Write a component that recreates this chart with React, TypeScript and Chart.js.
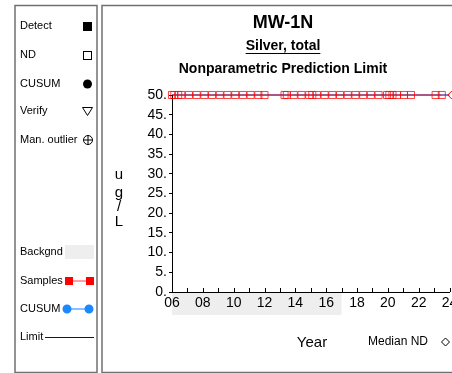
import React, { useEffect, useRef } from 'react';
import { Chart, registerables } from 'chart.js';

Chart.register(...registerables);

// ---- Data ----
const sampleYears = [
  2006.0, 2006.15, 2006.4, 2006.6, 2007.1, 2007.6, 2008.1, 2008.6, 2009.1, 2009.6,
  2010.1, 2010.6, 2011.1, 2011.6, 2012.0, 2013.3, 2013.45, 2013.9, 2014.4, 2014.9,
  2015.1, 2015.4, 2015.9, 2016.4, 2016.9, 2017.4, 2017.9, 2018.4, 2018.9, 2019.4,
  2019.95, 2020.1, 2020.3, 2020.6, 2021.05, 2021.5, 2023.1, 2023.5,
];
const sampleValues = [
  50, 50, 50, 50, 50, 50, 50, 50, 50, 50,
  50, 50, 50, 50, 50, 50, 50, 50, 50, 50,
  50, 50, 50, 50, 50, 50, 50, 50, 50, 50,
  50, 50, 50, 50, 50, 50, 50, 50,
];
const limitYears = [2006, 2024];
const limitValues = [50, 50];
const medianNdYears = [2024.15];
const medianNdValues = [50];
const backgroundPeriod = [2006, 2017];
const xRange = [2006, 2024];
const yRange = [0, 50];
const yTickStep = 5;

const titleText = 'MW-1N';
const subtitleText = 'Silver, total';
const methodText = 'Nonparametric Prediction Limit';
const xTitle = 'Year';
const yTitleChars = ['u', 'g', '/', 'L'];

const FONT = '"Liberation Sans", Arial, Helvetica, sans-serif';

function pts(xs: number[], ys: number[]) {
  return xs.map((x, i) => ({ x, y: ys[i] }));
}

const decorPlugin = {
  id: 'decor',
  beforeDraw(chart: any) {
    const ctx = chart.ctx as CanvasRenderingContext2D;
    const xs = chart.scales.x;
    const area = chart.chartArea;
    ctx.save();
    ctx.fillStyle = '#ffffff';
    ctx.fillRect(0, 0, chart.width, chart.height);

    // panel borders
    ctx.strokeStyle = '#707070';
    ctx.lineWidth = 1.5;
    ctx.strokeRect(15, 5.5, 82, 367);
    ctx.strokeRect(102, 5.5, 400, 367);

    // background band
    const bx0 = xs.getPixelForValue(backgroundPeriod[0]);
    const bx1 = xs.getPixelForValue(backgroundPeriod[1]);
    ctx.fillStyle = '#eeeeee';
    ctx.fillRect(bx0, area.bottom + 1, bx1 - bx0, 22);

    // titles
    ctx.fillStyle = '#000';
    ctx.textAlign = 'center';
    ctx.textBaseline = 'middle';
    const cx = 283;
    ctx.font = `bold 18px ${FONT}`;
    ctx.fillText(titleText, cx, 23);
    ctx.font = `bold 14px ${FONT}`;
    ctx.fillText(subtitleText, cx, 46);
    const w = ctx.measureText(subtitleText).width;
    ctx.strokeStyle = '#000';
    ctx.lineWidth = 1;
    ctx.beginPath();
    ctx.moveTo(cx - w / 2, 53.5);
    ctx.lineTo(cx + w / 2, 53.5);
    ctx.stroke();
    ctx.fillText(methodText, cx, 69);

    // y title
    ctx.font = `15px ${FONT}`;
    const yPos = [175, 193, 207, 222];
    yTitleChars.forEach((c, i) => ctx.fillText(c, 119, yPos[i]));

    // x title
    ctx.font = `15px ${FONT}`;
    ctx.fillText(xTitle, 312, 343);

    // Median ND
    ctx.font = `12px ${FONT}`;
    ctx.textAlign = 'left';
    ctx.fillText('Median ND', 368, 342);
    ctx.strokeStyle = '#000';
    ctx.lineWidth = 1;
    ctx.beginPath();
    ctx.moveTo(445.5, 338);
    ctx.lineTo(449.5, 342);
    ctx.lineTo(445.5, 346);
    ctx.lineTo(441.5, 342);
    ctx.closePath();
    ctx.stroke();

    // left legend
    ctx.font = `11px ${FONT}`;
    ctx.fillStyle = '#000';
    ctx.textAlign = 'left';
    const lx = 20;
    ctx.fillText('Detect', lx, 26);
    ctx.fillRect(83, 22, 9, 9);
    ctx.fillText('ND', lx, 55);
    ctx.strokeRect(83.5, 51.5, 8, 8);
    ctx.fillText('CUSUM', lx, 84);
    ctx.beginPath();
    ctx.arc(87.5, 84, 4.5, 0, Math.PI * 2);
    ctx.fill();
    ctx.fillText('Verify', lx, 111);
    ctx.beginPath();
    ctx.moveTo(82.5, 107.5);
    ctx.lineTo(92.5, 107.5);
    ctx.lineTo(87.5, 115.5);
    ctx.closePath();
    ctx.stroke();
    ctx.fillText('Man. outlier', lx, 140);
    ctx.beginPath();
    ctx.arc(88, 140, 4.5, 0, Math.PI * 2);
    ctx.moveTo(83.5, 140);
    ctx.lineTo(92.5, 140);
    ctx.moveTo(88, 135.5);
    ctx.lineTo(88, 144.5);
    ctx.stroke();

    ctx.fillText('Backgnd', lx, 252);
    ctx.fillStyle = '#eeeeee';
    ctx.fillRect(65, 245, 29, 14);

    ctx.fillStyle = '#000';
    ctx.fillText('Samples', lx, 281);
    ctx.strokeStyle = '#ff8080';
    ctx.lineWidth = 1.5;
    ctx.beginPath();
    ctx.moveTo(69, 281);
    ctx.lineTo(90, 281);
    ctx.stroke();
    ctx.fillStyle = '#ff0000';
    ctx.fillRect(65, 277, 8, 8);
    ctx.fillRect(86, 277, 8, 8);

    ctx.fillStyle = '#000';
    ctx.fillText('CUSUM', lx, 309);
    ctx.strokeStyle = '#66aaff';
    ctx.beginPath();
    ctx.moveTo(67, 309);
    ctx.lineTo(89, 309);
    ctx.stroke();
    ctx.fillStyle = '#1a88ff';
    ctx.beginPath();
    ctx.arc(67, 309, 4.5, 0, Math.PI * 2);
    ctx.arc(89, 309, 4.5, 0, Math.PI * 2);
    ctx.fill();

    ctx.fillStyle = '#000';
    ctx.fillText('Limit', lx, 337);
    ctx.strokeStyle = '#0000cc';
    ctx.lineWidth = 1;
    ctx.beginPath();
    ctx.moveTo(45, 337.5);
    ctx.lineTo(94, 337.5);
    ctx.stroke();

    ctx.restore();
  },
  afterDraw(chart: any) {
    const ctx = chart.ctx as CanvasRenderingContext2D;
    const xs = chart.scales.x;
    const area = chart.chartArea;
    ctx.save();
    ctx.strokeStyle = '#000';
    ctx.lineWidth = 1;
    ctx.beginPath();
    for (let yr = xRange[0]; yr <= xRange[1]; yr++) {
      const px = Math.round(xs.getPixelForValue(yr)) + 0.5;
      ctx.moveTo(px, area.bottom);
      ctx.lineTo(px, area.bottom - 4);
    }
    ctx.stroke();
    ctx.restore();
  },
};

export default function App() {
  const ref = useRef<HTMLCanvasElement | null>(null);
  useEffect(() => {
    if (!ref.current) return;
    const chart = new Chart(ref.current, {
      type: 'line',
      data: {
        datasets: [
          {
            label: 'Median ND',
            data: pts(medianNdYears, medianNdValues),
            showLine: false,
            pointStyle: 'rectRot',
            pointRadius: 4,
            pointBorderColor: '#ff0000',
            pointBackgroundColor: 'rgba(0,0,0,0)',
            pointBorderWidth: 1,
            clip: false as any,
          },
          {
            label: 'Samples',
            data: pts(sampleYears, sampleValues),
            borderColor: 'rgba(255,0,0,0.6)',
            borderWidth: 1,
            pointStyle: 'rect',
            pointRadius: 5,
            pointBorderColor: 'rgba(255,0,0,0.75)',
            pointBackgroundColor: 'rgba(0,0,0,0)',
            pointBorderWidth: 1,
            clip: false as any,
          },
          {
            label: 'Limit',
            data: pts(limitYears, limitValues),
            borderColor: '#000080',
            borderWidth: 1,
            pointRadius: 0,
            clip: false as any,
          },
        ],
      },
      options: {
        animation: false,
        responsive: false,
        events: [],
        layout: { autoPadding: false, padding: { left: 132, top: 95, right: 2.5, bottom: 51 } },
        plugins: { legend: { display: false }, tooltip: { enabled: false }, title: { display: false } },
        scales: {
          x: {
            type: 'linear',
            min: xRange[0],
            max: xRange[1],
            border: { display: true, color: '#000', width: 1 },
            grid: { display: true, drawOnChartArea: false, drawTicks: false, color: '#000' },
            ticks: {
              stepSize: 1,
              autoSkip: false,
              maxRotation: 0,
              padding: 3,
              color: '#000',
              font: { family: FONT, size: 14 },
              callback: (v: any) => (Number(v) % 2 === 0 ? String(Number(v) % 100).padStart(2, '0') : ''),
            },
            afterFit: (s: any) => {
              s.height = 30;
              s.paddingLeft = 0;
              s.paddingRight = 0;
            },
          },
          y: {
            type: 'linear',
            min: yRange[0],
            max: yRange[1],
            border: { display: true, color: '#000', width: 1 },
            grid: { display: true, drawOnChartArea: false, drawTicks: true, tickLength: 3, color: '#000' },
            ticks: {
              stepSize: yTickStep,
              autoSkip: false,
              padding: 2,
              color: '#000',
              font: { family: FONT, size: 14 },
              callback: (v: any) => `${v}.`,
            },
            afterFit: (s: any) => {
              s.width = 40;
              s.paddingTop = 0;
              s.paddingBottom = 0;
            },
          },
        },
      },
      plugins: [decorPlugin],
    } as any);
    return () => chart.destroy();
  }, []);
  return (
    <div style={{ position: 'fixed', left: 0, top: 0, width: 452, height: 373, overflow: 'hidden', background: '#fff' }}>
      <canvas ref={ref} width={452} height={373} style={{ display: 'block' }} />
    </div>
  );
}
